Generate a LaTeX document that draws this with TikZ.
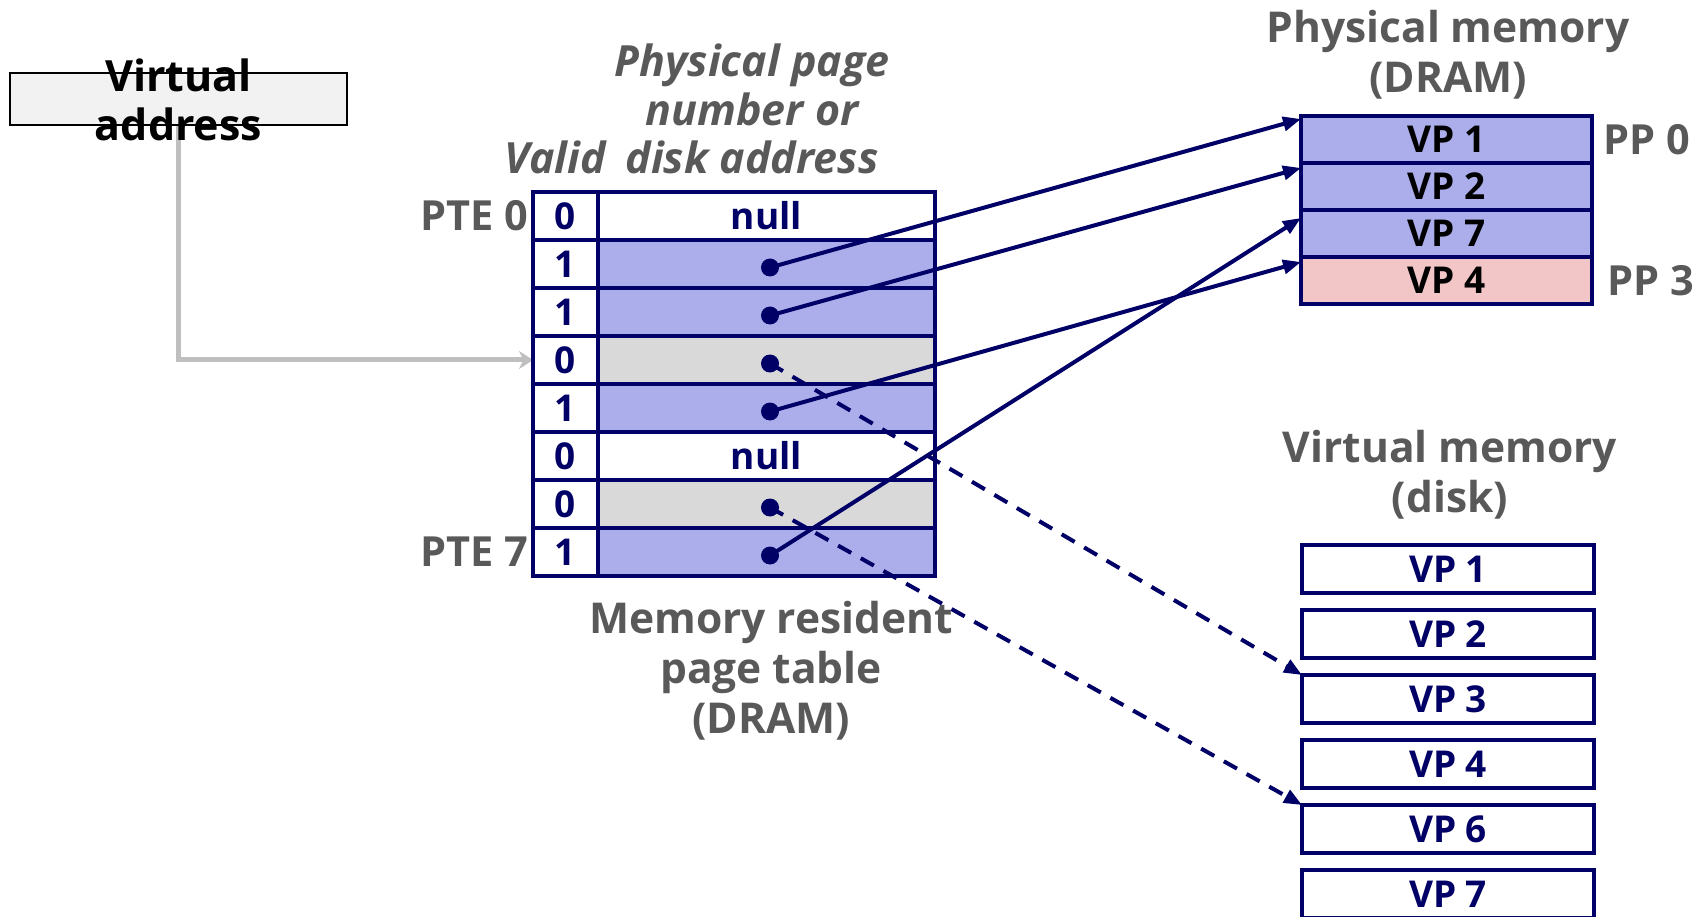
\documentclass[tikz,border=0pt]{standalone}
\usepackage{fontspec}
\setmainfont{Open Sans}
\usepackage{tikz}
\usetikzlibrary{positioning,arrows.meta}
\definecolor{navy}{RGB}{0,0,102}
\definecolor{vpblue}{RGB}{172,174,235}
\definecolor{vppink}{RGB}{242,198,198}
\definecolor{invgray}{RGB}{217,217,217}
\definecolor{labelgray}{RGB}{89,89,89}
\definecolor{vafill}{RGB}{242,242,242}
\definecolor{ptrgray}{RGB}{191,191,191}
\tikzstyle{ptcell}=[%
      rectangle, draw=navy, line width=4pt, text=navy, outer sep=0pt, inner sep=0pt,
      minimum height=48pt, font=\fontsize{37}{37}\selectfont\bfseries
]
\tikzstyle{ppage}=[%
      rectangle, draw=navy, line width=3.5pt, fill=vpblue, text=black, outer sep=0pt, inner sep=0pt,
      minimum width=291pt, minimum height=47pt, font=\fontsize{37}{37}\selectfont\bfseries
]
\tikzstyle{dpage}=[%
      rectangle, draw=navy, line width=4pt, fill=white, text=navy, outer sep=0pt, inner sep=0pt,
      minimum width=292pt, minimum height=48pt, font=\fontsize{37}{37}\selectfont\bfseries
]
\tikzstyle{memtitle}=[%
      text=labelgray, align=center, inner sep=0pt, font=\fontsize{42.5}{50}\selectfont\bfseries
]
\tikzstyle{colhead}=[%
      text=labelgray, align=center, inner sep=0pt, font=\fontsize{43}{48.5}\selectfont\bfseries\itshape
]
\tikzstyle{rowlabel}=[%
      text=labelgray, inner sep=0pt, font=\fontsize{41.5}{41.5}\selectfont\bfseries
]
\tikzstyle{ptrdot}=[circle, fill=navy, inner sep=0pt, minimum size=18pt]

\begin{document}
\begin{tikzpicture}[x=1pt, y=-1pt,
    >={Triangle[length=18pt,width=14pt]}
  ]
    \useasboundingbox (0,0) rectangle (1706,917);

    \node[rectangle, draw=black, line width=2.5pt, fill=vafill, inner sep=0pt,
          minimum width=337pt, minimum height=52pt] (va) at (178.5,99) {};
    \draw[ptrgray, line width=5pt, -{Stealth[length=14pt,width=18pt]}] (va.south) |- (533,360);
    \node[inner sep=0pt, align=center, anchor=base, font=\fontsize{43}{49}\selectfont\bfseries]
          (valabel) at (178.5,141) {Virtual\\address};

    \foreach \v/\c/\t [count=\i from 0] in {0/white/null, 1/vpblue/, 1/vpblue/, 0/invgray/,
                                            1/vpblue/, 0/white/null, 0/invgray/, 1/vpblue/} {
      \node[ptcell, fill=white, minimum width=65pt] (v\i) at (565.5,{216+48*\i}) {\v};
      \node[ptcell, fill=\c, minimum width=337pt, anchor=west] (p\i) at (v\i.east) {\t};
    }
    \foreach \i in {1,2,3,4,6,7}
      \node[ptrdot] (d\i) at ([xshift=3.5pt,yshift=-3.5pt]p\i.center) {};

    \node[rowlabel, anchor=east] (pte0) at ([xshift=-5pt]v0.west) {PTE 0};
    \node[rowlabel, anchor=east] (pte7) at ([xshift=-5pt]v7.west) {PTE 7};
    \node[colhead, anchor=base] (valid) at (555.5,174) {Valid};
    \node[colhead, anchor=base] (ppn) at (752,174) {Physical page\\number or\\disk address};
    \node[memtitle, anchor=base] (ptcap) at (771,733) {Memory resident\\page table\\(DRAM)};

    \node[memtitle, anchor=base] (pmtitle) at (1448,93) {Physical memory\\(DRAM)};
    \node[ppage] (pm1) at (1446.5,139.5) {VP 1};
    \node[ppage, below=0pt of pm1] (pm2) {VP 2};
    \node[ppage, below=0pt of pm2] (pm3) {VP 7};
    \node[ppage, fill=vppink, below=0pt of pm3] (pm4) {VP 4};
    \node[rowlabel, anchor=west] (pp0) at ([xshift=11pt]pm1.east) {PP 0};
    \node[rowlabel, anchor=west] (pp3) at ([xshift=15pt]pm4.east) {PP 3};

    \node[memtitle, anchor=base] (vmtitle) at (1450,512) {Virtual memory\\(disk)};
    \node[dpage] (dk1) at (1448,569) {VP 1};
    \node[dpage, below=17pt of dk1] (dk2) {VP 2};
    \node[dpage, below=17pt of dk2] (dk3) {VP 3};
    \node[dpage, below=17pt of dk3] (dk4) {VP 4};
    \node[dpage, below=17pt of dk4] (dk6) {VP 6};
    \node[dpage, below=17pt of dk6] (dk7) {VP 7};

    \path[->, navy, line width=4pt]
          (d1.center) edge ([yshift=-3pt]pm1.north west)
          (d2.center) edge ([yshift=-5pt]pm2.north west)
          (d4.center) edge ([yshift=-5pt]pm4.north west)
          (d7.center) edge ([yshift=-8pt]pm3.north west)
    ;
    \path[->, navy, line width=4pt, dash pattern=on 15pt off 11pt]
          (d3.center) edge (dk3.north west)
          (d6.center) edge (dk6.north west)
    ;

  \end{tikzpicture}
\end{document}
